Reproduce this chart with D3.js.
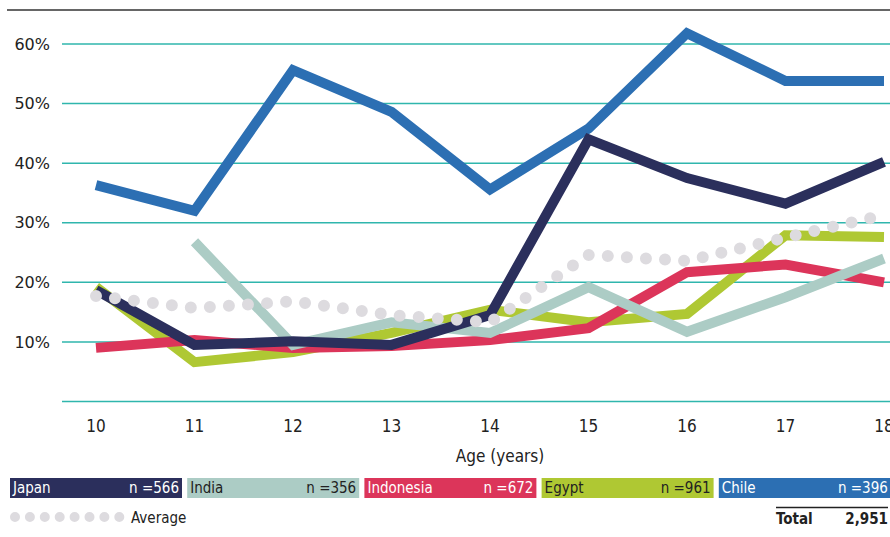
<!DOCTYPE html>
<html>
<head>
<meta charset="utf-8">
<script src="https://cdn.jsdelivr.net/npm/d3@7"></script>
<style>
  body { margin: 0; background: #fff; }
  svg text { fill: #222; }
  .tick-y { font-family: "DejaVu Sans", sans-serif; font-size: 16px; }
  .tick-x, .axis-title { font-family: "Liberation Sans Narrow", "DejaVu Sans Condensed", sans-serif; font-size: 17px; }
  .legend text { font-family: "Liberation Sans Narrow", "DejaVu Sans Condensed", sans-serif; font-size: 15px; }
  .total text { font-family: "Liberation Sans Narrow", "DejaVu Sans Condensed", sans-serif; font-size: 15px; font-weight: bold; }
</style>
</head>
<body>
<div id="chart"></div>
<script>
// values (percent)
const ages = [10, 11, 12, 13, 14, 15, 16, 17, 18];
const yTicks = [0, 10, 20, 30, 40, 50, 60];

const japan     = [18.7, 9.5, 10.1, 9.5, 14.5, 44.0, 37.5, 33.2, 40.2];
const india     = [null, 26.8, 9.5, 13.3, 11.5, 19.2, 11.7, 17.5, 24.0];
const indonesia = [9.0, 10.3, 9.0, 9.3, 10.3, 12.3, 21.7, 23.0, 20.0];
const egypt     = [19.2, 6.6, 8.3, 11.5, 15.4, 13.3, 14.7, 27.9, 27.6];
const chile     = [36.3, 32.0, 55.6, 48.6, 35.6, 45.8, 61.8, 53.8, 53.8];
const average   = [17.7, 15.7, 16.8, 14.5, 13.3, 24.6, 23.6, 27.5, 31.3];

const countries = ['Japan', 'India', 'Indonesia', 'Egypt', 'Chile'];
const sampleSizes = ['566', '356', '672', '961', '396'];
const total = '2,951';

const colors = {
  Japan: '#2b2f5c', India: '#acccc5', Indonesia: '#dc355a', Egypt: '#afc833', Chile: '#2c6fb3'
};
const textColors = {
  Japan: '#fff', India: '#222', Indonesia: '#fff', Egypt: '#222', Chile: '#fff'
};

const width = 890, height = 537;

const svg = d3.select('#chart').append('svg')
    .attr('width', width)
    .attr('height', height);

const x = d3.scaleLinear().domain([10, 18]).range([96, 884]);
const y = d3.scaleLinear().domain([0, 60]).range([401.5, 44]);

// top rule
svg.append('line')
    .attr('x1', 7).attr('x2', width)
    .attr('y1', 10).attr('y2', 10)
    .attr('stroke', '#333').attr('stroke-width', 1.6);

// gridlines
svg.append('g').selectAll('line')
    .data(yTicks)
  .join('line')
    .attr('x1', 62).attr('x2', width)
    .attr('y1', d => y(d)).attr('y2', d => y(d))
    .attr('stroke', '#2fb6ad').attr('stroke-width', 1.5);

svg.append('g').selectAll('text')
    .data(yTicks.filter(d => d > 0))
  .join('text')
    .attr('class', 'tick-y')
    .attr('x', 50)
    .attr('y', d => y(d))
    .attr('dy', '.35em')
    .attr('text-anchor', 'end')
    .text(d => d + '%');

svg.append('g').selectAll('text')
    .data(ages)
  .join('text')
    .attr('class', 'tick-x')
    .attr('x', d => x(d))
    .attr('y', 426)
    .attr('dy', '.35em')
    .attr('text-anchor', 'middle')
    .text(d => d);

svg.append('text')
    .attr('class', 'axis-title')
    .attr('x', 500).attr('y', 456)
    .attr('dy', '.35em')
    .attr('text-anchor', 'middle')
    .text('Age (years)');

// lines
const line = d3.line()
    .defined(d => d[1] != null)
    .x(d => x(d[0]))
    .y(d => y(d[1]));

const seriesValues = { Japan: japan, India: india, Indonesia: indonesia, Egypt: egypt, Chile: chile };
const drawOrder = ['Egypt', 'Indonesia', 'India', 'Chile', 'Japan'];

svg.append('g').selectAll('path')
    .data(drawOrder)
  .join('path')
    .attr('d', c => line(ages.map((a, i) => [a, seriesValues[c][i]])))
    .attr('fill', 'none')
    .attr('stroke', c => colors[c])
    .attr('stroke-width', 10)
    .attr('stroke-linejoin', 'miter')
    .attr('stroke-linecap', 'butt');

// average as round dots
svg.append('path')
    .attr('d', line(ages.map((a, i) => [a, average[i]])))
    .attr('fill', 'none')
    .attr('stroke', '#dddbdf')
    .attr('stroke-width', 12)
    .attr('stroke-linecap', 'round')
    .attr('stroke-dasharray', '0 19.1');

// legend boxes
const legend = svg.append('g').attr('class', 'legend');
const boxW = 172, boxGap = 5.2, boxY = 478, boxH = 20;

const items = legend.selectAll('g')
    .data(countries)
  .join('g')
    .attr('transform', (d, i) => `translate(${10 + i * (boxW + boxGap)},${boxY})`);

items.append('rect')
    .attr('width', boxW).attr('height', boxH)
    .attr('fill', d => colors[d]);

items.append('text')
    .attr('x', 3).attr('y', boxH / 2).attr('dy', '.35em')
    .style('fill', d => textColors[d])
    .text(d => d);

items.append('text')
    .attr('x', boxW - 3).attr('y', boxH / 2).attr('dy', '.35em')
    .attr('text-anchor', 'end')
    .style('fill', d => textColors[d])
    .text((d, i) => 'n =' + sampleSizes[i]);

// average legend
legend.append('line')
    .attr('x1', 15).attr('x2', 121)
    .attr('y1', 517).attr('y2', 517)
    .attr('stroke', '#dddbdf')
    .attr('stroke-width', 10)
    .attr('stroke-linecap', 'round')
    .attr('stroke-dasharray', '0 14.9');

legend.append('text')
    .attr('x', 131).attr('y', 518).attr('dy', '.35em')
    .text('Average');

// total
const tot = svg.append('g').attr('class', 'total');
tot.append('line')
    .attr('x1', 776).attr('x2', 888)
    .attr('y1', 507.5).attr('y2', 507.5)
    .attr('stroke', '#222').attr('stroke-width', 1.3);
tot.append('text')
    .attr('x', 776).attr('y', 519).attr('dy', '.35em')
    .text('Total');
tot.append('text')
    .attr('x', 888).attr('y', 519).attr('dy', '.35em')
    .attr('text-anchor', 'end')
    .text(total);
</script>
</body>
</html>
